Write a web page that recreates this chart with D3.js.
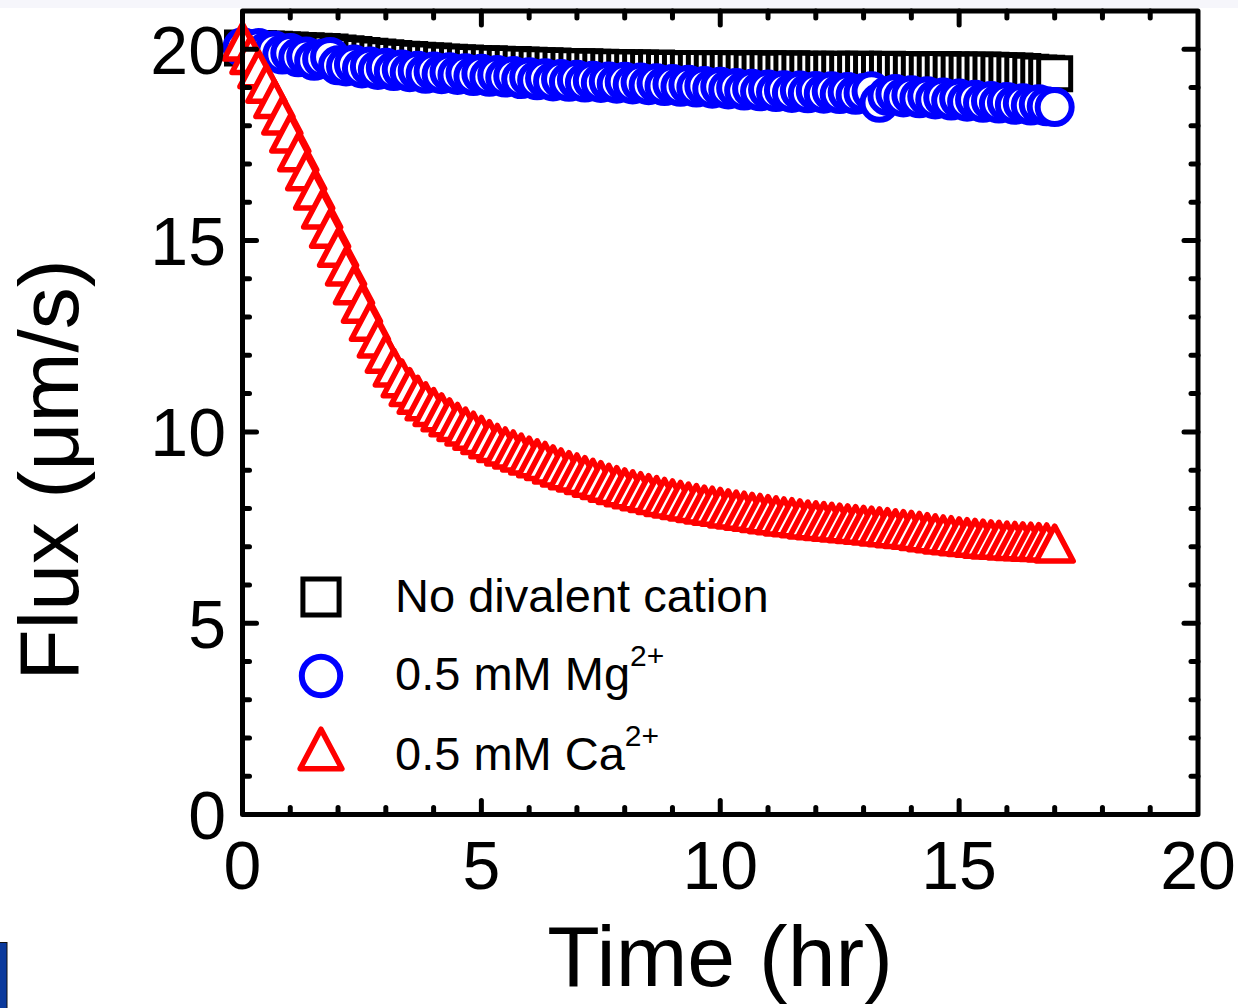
<!DOCTYPE html>
<html>
<head>
<meta charset="utf-8">
<script src="https://cdn.jsdelivr.net/npm/d3@7"></script>
<style>
  html, body { margin: 0; padding: 0; background: #ffffff; }
  svg { display: block; }
  text { font-family: "Liberation Sans", Arial, sans-serif; fill: #000; }
</style>
</head>
<body>
<svg id="chart" width="1238" height="1008"></svg>
<script>
// ---- data ----
const time = [
  0,0.167,0.333,0.5,0.667,0.833,
  1,1.167,1.333,1.5,1.667,1.833,
  2,2.167,2.333,2.5,2.667,2.833,
  3,3.167,3.333,3.5,3.667,3.833,
  4,4.167,4.333,4.5,4.667,4.833,
  5,5.167,5.333,5.5,5.667,5.833,
  6,6.167,6.333,6.5,6.667,6.833,
  7,7.167,7.333,7.5,7.667,7.833,
  8,8.167,8.333,8.5,8.667,8.833,
  9,9.167,9.333,9.5,9.667,9.833,
  10,10.167,10.333,10.5,10.667,10.833,
  11,11.167,11.333,11.5,11.667,11.833,
  12,12.167,12.333,12.5,12.667,12.833,
  13,13.167,13.333,13.5,13.667,13.833,
  14,14.167,14.333,14.5,14.667,14.833,
  15,15.167,15.333,15.5,15.667,15.833,
  16,16.167,16.333,16.5,16.667,16.833,17
];
const noDivalent = [
  20.03,20.02,20.02,20.01,20.00,19.99,
  19.98,19.97,19.96,19.95,19.94,19.93,
  19.90,19.88,19.86,19.84,19.82,19.80,
  19.78,19.76,19.74,19.73,19.71,19.70,
  19.69,19.67,19.66,19.65,19.64,19.63,
  19.62,19.62,19.61,19.60,19.60,19.59,
  19.58,19.57,19.57,19.56,19.55,19.55,
  19.54,19.54,19.53,19.53,19.52,19.52,
  19.52,19.51,19.51,19.50,19.51,19.50,
  19.50,19.50,19.49,19.50,19.50,19.49,
  19.49,19.50,19.49,19.49,19.48,19.49,
  19.49,19.48,19.48,19.49,19.48,19.48,
  19.48,19.47,19.48,19.48,19.47,19.48,
  19.48,19.47,19.47,19.48,19.47,19.47,
  19.46,19.47,19.46,19.46,19.47,19.46,
  19.46,19.45,19.45,19.46,19.45,19.44,
  19.44,19.43,19.42,19.40,19.38,19.37,19.36
];
const mg = [
  20.05,20.00,20.03,19.94,19.97,19.86,
  19.90,19.79,19.81,19.70,19.75,19.80,
  19.58,19.55,19.60,19.50,19.55,19.46,
  19.52,19.43,19.47,19.40,19.44,19.36,
  19.42,19.35,19.40,19.33,19.37,19.30,
  19.36,19.28,19.33,19.26,19.30,19.22,
  19.27,19.19,19.24,19.16,19.22,19.15,
  19.20,19.13,19.18,19.12,19.16,19.10,
  19.15,19.08,19.13,19.06,19.11,19.04,
  19.09,19.02,19.07,19.00,19.04,18.97,
  19.02,18.95,18.99,18.92,18.97,18.90,
  18.95,18.88,18.93,18.86,18.92,18.85,
  18.91,18.84,18.90,18.83,18.88,18.81,
  18.86,18.90,18.60,18.78,18.83,18.74,
  18.80,18.72,18.77,18.69,18.74,18.66,
  18.71,18.63,18.68,18.60,18.65,18.58,
  18.62,18.55,18.59,18.53,18.56,18.51,18.49
];
const ca = [
  20.20,19.85,19.48,19.10,18.70,18.27,
  17.80,17.31,16.81,16.31,15.81,15.31,
  14.81,14.32,13.83,13.35,12.88,12.44,
  12.04,11.68,11.40,11.17,10.97,10.80,
  10.65,10.51,10.38,10.26,10.14,10.03,
  9.92,9.81,9.71,9.62,9.54,9.46,
  9.38,9.31,9.24,9.15,9.07,9.00,
  8.94,8.87,8.80,8.74,8.67,8.61,
  8.55,8.50,8.45,8.40,8.35,8.30,
  8.26,8.22,8.18,8.14,8.10,8.07,
  8.04,8.00,7.97,7.94,7.91,7.88,
  7.85,7.82,7.79,7.77,7.74,7.71,
  7.69,7.67,7.65,7.63,7.61,7.59,
  7.57,7.55,7.53,7.51,7.48,7.46,
  7.44,7.41,7.38,7.35,7.32,7.30,
  7.27,7.25,7.23,7.21,7.19,7.18,
  7.16,7.15,7.14,7.13,7.12,7.11,7.08
];
const xTicks = [0, 5, 10, 15, 20];
const yTicks = [0, 5, 10, 15, 20];
const xMinor = [1,2,3,4,6,7,8,9,11,12,13,14,16,17,18,19];
const yMinor = [1,2,3,4,6,7,8,9,11,12,13,14,16,17,18,19];
const legendLabels = [
  {main: "No divalent cation", sup: ""},
  {main: "0.5 mM Mg", sup: "2+"},
  {main: "0.5 mM Ca", sup: "2+"}
];

// ---- drawing ----
const svg = d3.select("#chart");
const x = d3.scaleLinear().domain([0, 20]).range([242.5, 1198]);
const y = d3.scaleLinear().domain([0, 21]).range([814.5, 11]);

// faint tint at the top edge and a fragment of a slide element bottom-left
svg.append("rect").attr("x", 0).attr("y", 0).attr("width", 1238).attr("height", 8).attr("fill", "#f6f6fb");
svg.append("rect").attr("x", -2).attr("y", 942.5).attr("width", 9).attr("height", 70)
  .attr("fill", "#0b3a9c").attr("stroke", "#111").attr("stroke-width", 1);

const SW = 5;
const squarePath = s => `M${-s},${-s}H${s}V${s}H${-s}Z`;
const trianglePath = s => `M0,${-17.5*s}L${18.5*s},${17.5*s}L${-18.5*s},${17.5*s}Z`;

const plot = svg.append("g");

// black squares
plot.append("g").selectAll("path").data(time.map((t, i) => [t, noDivalent[i]])).join("path")
  .attr("transform", d => `translate(${x(d[0])},${y(d[1])})`)
  .attr("d", squarePath(16))
  .attr("fill", "#fff").attr("stroke", "#000").attr("stroke-width", SW);

// blue circles
plot.append("g").selectAll("circle").data(time.map((t, i) => [t, mg[i]])).join("circle")
  .attr("cx", d => x(d[0])).attr("cy", d => y(d[1])).attr("r", 17)
  .attr("fill", "#fff").attr("stroke", "#0000ff").attr("stroke-width", 6);

// red triangles
plot.append("g").selectAll("path").data(time.map((t, i) => [t, ca[i]])).join("path")
  .attr("transform", d => `translate(${x(d[0])},${y(d[1])})`)
  .attr("d", trianglePath(1))
  .attr("fill", "#fff").attr("stroke", "#ff0000").attr("stroke-width", 5.5)
  .attr("stroke-linejoin", "round");

// frame
const [x0, x1] = x.range();
const [yb, yt] = y.range();
svg.append("rect").attr("x", x0).attr("y", yt).attr("width", x1 - x0).attr("height", yb - yt)
  .attr("fill", "none").attr("stroke", "#000").attr("stroke-width", SW).attr("stroke-linejoin", "round");

// ticks (inward, all four sides)
const tk = svg.append("g").attr("stroke", "#000").attr("stroke-width", SW).attr("stroke-linecap", "round");
const MAJ = 14, MIN = 7;
function xt(vals, len) {
  vals.forEach(v => {
    tk.append("line").attr("x1", x(v)).attr("x2", x(v)).attr("y1", yb).attr("y2", yb - len);
    tk.append("line").attr("x1", x(v)).attr("x2", x(v)).attr("y1", yt).attr("y2", yt + len);
  });
}
function yt_(vals, len) {
  vals.forEach(v => {
    tk.append("line").attr("y1", y(v)).attr("y2", y(v)).attr("x1", x0).attr("x2", x0 + len);
    tk.append("line").attr("y1", y(v)).attr("y2", y(v)).attr("x1", x1).attr("x2", x1 - len);
  });
}
xt(xTicks.slice(1, -1), MAJ); xt(xMinor, MIN);
yt_(yTicks.slice(1), MAJ); yt_(yMinor, MIN);

// tick labels
const TF = 68;
svg.append("g").selectAll("text").data(xTicks).join("text")
  .attr("x", d => x(d)).attr("y", 889).attr("text-anchor", "middle")
  .attr("font-size", TF).text(d => d);
svg.append("g").selectAll("text").data(yTicks).join("text")
  .attr("x", 226).attr("y", d => y(d) + TF * 0.36).attr("text-anchor", "end")
  .attr("font-size", TF).text(d => d);

// axis titles
svg.append("text").attr("x", 720).attr("y", 986).attr("text-anchor", "middle")
  .attr("font-size", 86).text("Time (hr)");
svg.append("text").attr("transform", "translate(78,470) rotate(-90)").attr("text-anchor", "middle")
  .attr("font-size", 84).text("Flux (\u03bcm/s)");

// legend
const lg = svg.append("g");
const legY = [597, 676, 749];
const LS = 1.13;
lg.append("path").attr("transform", `translate(321,${legY[0]})`).attr("d", squarePath(16 * LS))
  .attr("fill", "#fff").attr("stroke", "#000").attr("stroke-width", SW);
lg.append("circle").attr("cx", 321).attr("cy", legY[1]).attr("r", 17 * LS)
  .attr("fill", "#fff").attr("stroke", "#0000ff").attr("stroke-width", 6);
lg.append("path").attr("transform", `translate(321,${legY[2]})`).attr("d", trianglePath(LS))
  .attr("fill", "#fff").attr("stroke", "#ff0000").attr("stroke-width", 5.5).attr("stroke-linejoin", "round");
const textBase = [612, 690, 770];
legendLabels.forEach((l, i) => {
  const t = lg.append("text").attr("x", 395).attr("y", textBase[i]).attr("font-size", 47);
  t.append("tspan").text(l.main);
  if (l.sup) t.append("tspan").attr("font-size", 30).attr("dy", -24).text(l.sup);
});
</script>
</body>
</html>
